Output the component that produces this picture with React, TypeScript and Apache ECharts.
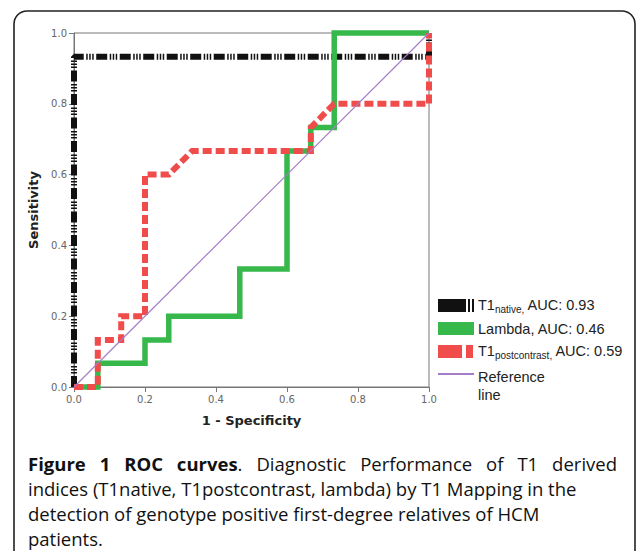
import React, { useEffect, useRef } from "react";
import * as echarts from "echarts";

const xTicks = [0, 0.2, 0.4, 0.6, 0.8, 1.0];

const nativeFpr = [0, 0, 1, 1];
const nativeTpr = [0, 0.933, 0.933, 1];

const lambdaFpr = [0, 0.067, 0.067, 0.2, 0.2, 0.267, 0.267, 0.467, 0.467, 0.6, 0.6, 0.667, 0.667, 0.733, 0.733, 1];
const lambdaTpr = [0, 0, 0.067, 0.067, 0.133, 0.133, 0.2, 0.2, 0.333, 0.333, 0.667, 0.667, 0.733, 0.733, 1, 1];

const postFpr = [0, 0.067, 0.067, 0.133, 0.133, 0.2, 0.2, 0.267, 0.333, 0.667, 0.667, 0.733, 1, 1];
const postTpr = [0, 0, 0.133, 0.133, 0.2, 0.2, 0.6, 0.6, 0.667, 0.667, 0.733, 0.8, 0.8, 1];

const refFpr = [0, 1];
const refTpr = [0, 1];

const legendNames = ["native,", "Lambda, AUC: 0.46", "postcontrast,", "Reference"];
const legendAuc = [" AUC: 0.93", "", " AUC: 0.59", ""];

const captionBold = "Figure 1 ROC curves";
const captionFirstRest = ". Diagnostic Performance of T1 derived";
const captionLines = [
  "indices (T1native, T1postcontrast, lambda) by T1 Mapping in the",
  "detection of genotype positive first-degree relatives of HCM",
  "patients.",
];

const BLACK = "#111111";
const GREEN = "#36b84b";
const RED = "#ef4c4b";
const PURPLE = "#a67cc6";

function zip(a: number[], b: number[]) {
  return a.map((v, i) => [v, b[i]]);
}

export default function App() {
  const ref = useRef<HTMLDivElement>(null);
  useEffect(() => {
    const chart = echarts.init(ref.current!, null, { renderer: "svg" });
    const legX = 438;
    const capFont = "Open Sans";
    const capSize = 18.5;
    const capY0 = 463;
    const capPitch = 25.3;

    // justified first caption line
    const ctx = document.createElement("canvas").getContext("2d")!;
    const measure = (t: string, bold: boolean) => {
      ctx.font = (bold ? "bold " : "") + capSize + "px '" + capFont + "'";
      return ctx.measureText(t).width;
    };
    type Seg = { t: string; b: boolean };
    const words: Seg[][] = [];
    captionBold.split(" ").forEach((w) => words.push([{ t: w, b: true }]));
    const restWords = captionFirstRest.split(" ");
    words[words.length - 1].push({ t: restWords[0], b: false });
    restWords.slice(1).forEach((w) => words.push([{ t: w, b: false }]));
    const widths = words.map((segs) => segs.reduce((s, g) => s + measure(g.t, g.b), 0));
    const total = widths.reduce((a, b) => a + b, 0);
    const x0 = 28;
    const x1 = 617;
    const gap = (x1 - x0 - total) / (words.length - 1);
    let cx = x0;
    const line1Els: any[] = words.map((segs, i) => {
      const el = {
        type: "text",
        x: cx,
        y: capY0,
        style: {
          text: segs.map((g) => "{" + (g.b ? "b" : "n") + "|" + g.t + "}").join(""),
          verticalAlign: "middle",
          rich: {
            b: { fontFamily: capFont, fontWeight: "bold", fontSize: capSize, fill: "#111" },
            n: { fontFamily: capFont, fontSize: capSize, fill: "#111" },
          },
        },
      };
      cx += widths[i] + gap;
      return el;
    });

    chart.setOption({
      animation: false,
      backgroundColor: "#ffffff",
      grid: { left: 74, right: 207, top: 33, bottom: 164, show: true, borderColor: "#777", borderWidth: 1 },
      xAxis: {
        type: "value",
        min: 0,
        max: 1,
        interval: 0.2,
        name: "1 - Specificity",
        nameLocation: "middle",
        nameGap: 27,
        nameTextStyle: { fontFamily: "DejaVu Sans", fontWeight: "bold", fontSize: 13, color: "#222" },
        axisLine: { show: true, lineStyle: { color: "#777", width: 1 } },
        axisTick: { show: true, length: 5, lineStyle: { color: "#777" } },
        axisLabel: {
          fontFamily: "DejaVu Sans",
          fontSize: 10,
          color: "#666",
          margin: 7,
          formatter: (v: number) => (xTicks.includes(Math.round(v * 10) / 10) ? v.toFixed(1) : ""),
        },
        splitLine: { show: false },
      },
      yAxis: {
        type: "value",
        min: 0,
        max: 1,
        interval: 0.2,
        name: "Sensitivity",
        nameLocation: "middle",
        nameGap: 27,
        nameTextStyle: { fontFamily: "DejaVu Sans", fontWeight: "bold", fontSize: 13, color: "#222" },
        axisLine: { show: true, lineStyle: { color: "#777", width: 1 } },
        axisTick: { show: true, length: 5, lineStyle: { color: "#777" } },
        axisLabel: {
          fontFamily: "DejaVu Sans",
          fontSize: 10,
          color: "#666",
          margin: 7,
          formatter: (v: number) => v.toFixed(1),
        },
        splitLine: { show: false },
      },
      series: [
        {
          type: "line",
          data: zip(nativeFpr, nativeTpr),
          showSymbol: false,
          clip: false,
          lineStyle: { color: BLACK, width: 6, type: [11, 2.5, 1.5, 1.5, 1.5, 1.5, 1.5, 2.5], cap: "butt" },
          z: 2,
        },
        {
          type: "line",
          data: zip(lambdaFpr, lambdaTpr),
          showSymbol: false,
          clip: false,
          lineStyle: { color: GREEN, width: 5.5, type: "solid", cap: "butt", join: "miter" },
          z: 3,
        },
        {
          type: "line",
          data: zip(postFpr, postTpr),
          showSymbol: false,
          clip: false,
          lineStyle: { color: RED, width: 6, type: [9, 4], cap: "butt", join: "miter" },
          z: 4,
        },
        {
          type: "line",
          data: zip(refFpr, refTpr),
          showSymbol: false,
          clip: false,
          lineStyle: { color: PURPLE, width: 1.2 },
          z: 5,
        },
      ],
      graphic: [
        {
          type: "rect",
          shape: { x: 14, y: 11, width: 621, height: 620, r: 13 },
          style: { fill: "none", stroke: "#222", lineWidth: 1.6 },
          silent: true,
        },
        // legend symbols
        { type: "rect", shape: { x: legX, y: 299, width: 28, height: 13 }, style: { fill: BLACK } },
        { type: "rect", shape: { x: legX + 30, y: 299, width: 2, height: 13 }, style: { fill: BLACK } },
        { type: "rect", shape: { x: legX + 34, y: 299, width: 2, height: 13 }, style: { fill: BLACK } },
        { type: "rect", shape: { x: legX, y: 322, width: 36, height: 13 }, style: { fill: GREEN } },
        { type: "rect", shape: { x: legX, y: 345, width: 24, height: 13 }, style: { fill: RED } },
        { type: "rect", shape: { x: legX + 28, y: 345, width: 7, height: 13 }, style: { fill: RED } },
        { type: "line", shape: { x1: legX, y1: 374, x2: legX + 36, y2: 374 }, style: { stroke: PURPLE, lineWidth: 2 } },
        // legend texts
        {
          type: "text",
          x: 478,
          y: 305,
          style: {
            text: "{a|T1}{s|" + legendNames[0] + "}{a|" + legendAuc[0] + "}",
            verticalAlign: "middle",
            rich: {
              a: { fontFamily: "Liberation Sans", fontSize: 14.5, lineHeight: 18, verticalAlign: "middle", fill: "#222" },
              s: { fontFamily: "Liberation Sans", fontSize: 10, lineHeight: 8, verticalAlign: "bottom", fill: "#222" },
            },
          },
        },
        {
          type: "text",
          x: 478,
          y: 329,
          style: { text: legendNames[1], verticalAlign: "middle", fontFamily: "Liberation Sans", fontSize: 14.5, fill: "#222" },
        },
        {
          type: "text",
          x: 478,
          y: 351,
          style: {
            text: "{a|T1}{s|" + legendNames[2] + "}{a|" + legendAuc[2] + "}",
            verticalAlign: "middle",
            rich: {
              a: { fontFamily: "Liberation Sans", fontSize: 14.5, lineHeight: 18, verticalAlign: "middle", fill: "#222" },
              s: { fontFamily: "Liberation Sans", fontSize: 10, lineHeight: 8, verticalAlign: "bottom", fill: "#222" },
            },
          },
        },
        {
          type: "text",
          x: 478,
          y: 377,
          style: { text: legendNames[3], verticalAlign: "middle", fontFamily: "Liberation Sans", fontSize: 14.5, fill: "#222" },
        },
        {
          type: "text",
          x: 478,
          y: 395,
          style: { text: "line", verticalAlign: "middle", fontFamily: "Liberation Sans", fontSize: 14.5, fill: "#222" },
        },
        // caption
        ...line1Els,
        ...captionLines.map((t, i) => ({
          type: "text",
          x: 28,
          y: capY0 + (i + 1) * capPitch,
          style: { text: t, verticalAlign: "middle", fontFamily: capFont, fontSize: capSize, fill: "#111" },
        })),
      ],
    });
    return () => chart.dispose();
  }, []);
  return <div ref={ref} style={{ position: "absolute", left: 0, top: 0, width: 636, height: 551 }} />;
}
